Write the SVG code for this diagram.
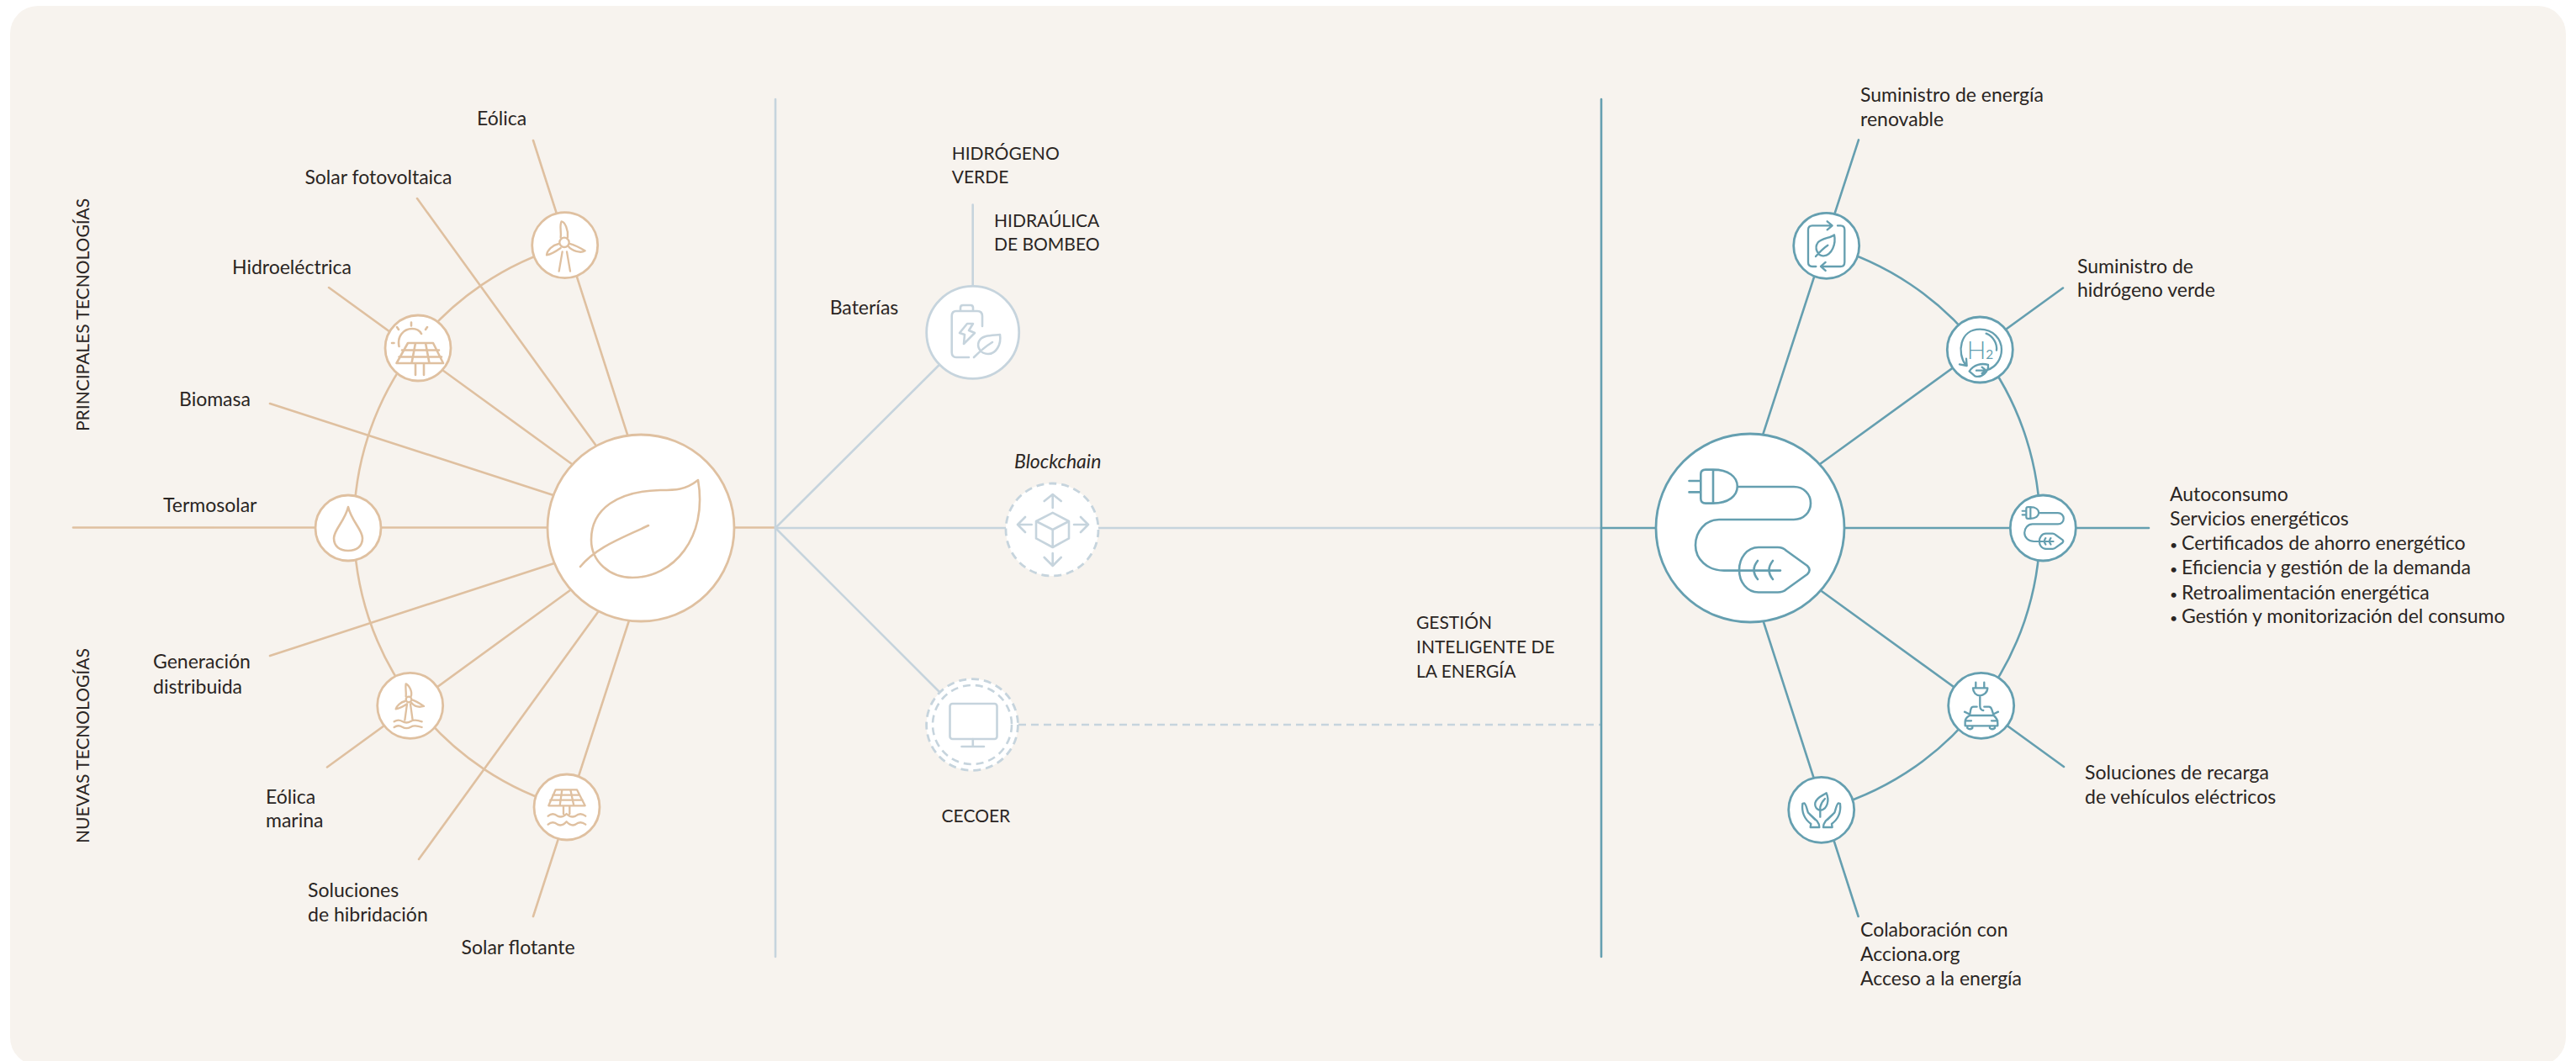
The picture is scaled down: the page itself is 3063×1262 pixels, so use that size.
<svg xmlns="http://www.w3.org/2000/svg" width="3063" height="1262" viewBox="0 0 3063 1262">
<style>
text{font-family:"Lato","Noto Sans",sans-serif;font-size:23px;fill:#2a2523}
.k{font-size:21px}
.bu{font-size:16px}
line,path,circle,rect{fill:none;stroke-linecap:round;stroke-linejoin:round}
.t{stroke:#dfc0a0;stroke-width:2.6}
.g{stroke:#c6d4dd;stroke-width:2.6}
.b{stroke:#659fb0;stroke-width:2.6}
.n{fill:#fff;stroke-width:2.8}
.d{stroke-dasharray:9 6;stroke-linecap:butt}
</style>
<defs>
<g id="plug">
<path d="M2037 558.6H2028Q2022.3 558.6 2022.3 564V593Q2022.3 598.6 2028 598.6H2037C2055 598.6 2065.8 590 2065.8 578.6C2065.8 567 2055 558.6 2037 558.6ZM2037 558.6V598.6M2008.5 572H2022M2008.5 585.4H2022M2066 579H2133C2145 579 2153 588 2153 598.5C2153 609 2145 618 2133 618H2044C2028 618 2016 632 2016 648.4C2016 665 2030 678.6 2050 678.6H2117"/>
<path d="M2091 651H2114Q2120 651 2124 655L2149 673Q2154 678 2149 683L2124 701Q2120 704.5 2114 704.5H2091C2077 704.5 2068 692 2068 678C2068 664 2077 651 2091 651Z"/>
<path d="M2090 667Q2081 678 2090 689M2108 667Q2099 678 2108 689"/>
</g>
</defs>
<rect id="panel" x="12" y="7" width="3039" height="1260" rx="33" style="fill:#f7f3ee;stroke:none"/>
<g id="connectors">
<path class="t" d="M671.7 292.5A347 347 0 0 0 674 960"/>
<line class="t" x1="634" y1="167" x2="747" y2="520"/>
<line class="t" x1="496" y1="236" x2="708" y2="529"/>
<line class="t" x1="391" y1="342" x2="680" y2="552"/>
<line class="t" x1="321" y1="480" x2="658" y2="589"/>
<line class="t" x1="87" y1="627.5" x2="922" y2="627.5"/>
<line class="t" x1="321" y1="780" x2="659" y2="670"/>
<line class="t" x1="389" y1="912.5" x2="678" y2="702"/>
<line class="t" x1="498" y1="1022" x2="711" y2="728"/>
<line class="t" x1="634" y1="1090" x2="748" y2="738"/>
<line class="g" x1="922" y1="118" x2="922" y2="1138"/>
<line class="g" x1="922" y1="628" x2="1903" y2="628"/>
<line class="g" x1="922" y1="628" x2="1156" y2="395"/>
<line class="g" x1="1156.7" y1="243.5" x2="1156.7" y2="395"/>
<line class="g" x1="922" y1="628" x2="1156" y2="862"/>
<line class="g d" x1="1211" y1="862" x2="1903" y2="862"/>
<line class="b" x1="1904" y1="118" x2="1904" y2="1138"/>
<line class="b" x1="1904" y1="628" x2="2081" y2="628"/>
<path class="b" d="M2171.7 292.3A347.5 347.5 0 0 1 2165.7 963.3"/>
<line class="b" x1="2210" y1="166.4" x2="2096" y2="517.5"/>
<line class="b" x1="2453" y1="342.5" x2="2164" y2="552"/>
<line class="b" x1="2081" y1="628" x2="2555" y2="628"/>
<line class="b" x1="2164.4" y1="702" x2="2454" y2="912"/>
<line class="b" x1="2096.7" y1="739" x2="2209.6" y2="1090"/>
</g>
<g id="node-hoja"><circle class="t n" cx="762" cy="628" r="111" style="fill:#fff"/>
<path class="t" d="M830 571C815 583 803 583 785 583C735 584 703 605 703 642C703 668 725 687 752 687C800 687 842 640 830 571ZM771 625C740 640 710 650 690 674"/></g>
<g id="node-eolica"><circle class="t n" cx="671.7" cy="291.7" r="39" style="fill:#fff"/>
<g class="t" transform="translate(620 240) scale(.3333)" style="stroke-width:7"><circle cx="153" cy="145" r="17" style="stroke:inherit"/><path style="stroke:inherit" d="M140 128C143 105 135 85 143 70C155 72 168 100 165 127M172 150C190 155 215 168 227 175C210 185 180 175 168 160M133 150C110 155 92 172 90 190C110 187 130 172 140 165M146 178L134 248M162 178L174 248"/></g></g>
<g id="node-fotovoltaica"><circle class="t n" cx="497" cy="414" r="39" style="fill:#fff"/>
<path class="t" d="M485 408H515L527 432H471.5ZM478 416.5H522M474.5 424.5H525M494 408L489.5 432M506 408L510.5 432M494 432V446M504 432V446M474.5 412C472 400 480 391 490 391C495 391 499 393 501 397M489 383.6V387.5M472 389L474 392M508 389L506 392M466 408H468.5"/></g>
<g id="node-termosolar"><circle class="t n" cx="414" cy="628" r="39" style="fill:#fff"/>
<path class="t" d="M414 603C410 620 397 630 397 640C397 650 404 655 414 655C424 655 431 650 431 640C431 630 418 620 414 603Z"/></g>
<g id="node-eolica-marina"><circle class="t n" cx="487.7" cy="839.3" r="39" style="fill:#fff"/>
<g class="t" transform="translate(420 760) scale(.3333)" style="stroke-width:7"><circle cx="198" cy="216" r="10" style="stroke:inherit"/><path style="stroke:inherit" d="M188 205C190 190 185 175 188 160C200 165 212 190 206 205M212 218C225 222 240 232 252 240C235 245 218 240 208 228M185 222C170 225 155 238 152 250C168 248 180 240 192 232M192 232L184 290M204 232L212 290M146 295C156 288 165 288 175 294C185 300 195 300 205 294C215 288 225 288 245 295M146 315C156 308 165 308 175 314C185 320 195 320 205 314C215 308 225 308 245 315"/></g></g>
<g id="node-solar-flotante"><circle class="t n" cx="674" cy="960" r="39" style="fill:#fff"/>
<g class="t" transform="translate(420 760) scale(.3333)" style="stroke-width:7"><path style="stroke:inherit" d="M722 538H798L827 595H697ZM712 557H808M703 575H818M745 538L737 595M775 538L787 595M750 595V625M772 595V625M695 632q17 -14 34 0q16 8 32 -8q16 16 32 8q17 -14 36 0M695 662q17 -14 34 0q17 8 32 -10q16 18 32 10q17 -14 36 0"/></g></g>
<g id="node-baterias"><circle class="g n" cx="1156.7" cy="395.4" r="55" style="fill:#fff"/>
<path class="g" d="M1168 388V376Q1168 370 1162 370H1137Q1131.7 370 1131.7 376V419Q1131.7 425 1137 425H1152M1142 370V366Q1142 363 1145 363H1154Q1157 363 1157 366V370M1150 385L1141 396L1147 398L1146 409L1159 396L1152 393L1157 385ZM1189 398C1180 399 1168 398 1164 406C1161 413 1166 421 1175 421C1184 421 1191 410 1189 398ZM1158 425C1165 418 1172 412 1180 407"/></g>
<g id="node-blockchain"><circle class="g n d" cx="1251" cy="630" r="55" style="fill:#fff"/>
<path class="g" d="M1251.7 609.8L1271 620V640.4L1251.7 651L1232 640.4V620ZM1232 620L1251.7 630L1271 620M1251.7 630V651M1251.7 604V588M1241.7 596L1251.7 588L1261.7 596M1226.7 624H1210M1219 615L1210 624L1219 633M1277 624H1294M1285 615L1294 624L1285 633M1251.7 658V673M1241.7 663L1251.7 673L1261.7 663"/></g>
<g id="node-cecoer"><circle class="g n d" cx="1156" cy="862" r="54.4" style="fill:#fff"/><circle class="g d" cx="1156" cy="862" r="47"/>
<rect class="g" x="1129.5" y="837" width="56" height="42" rx="3"/><path class="g" d="M1156.8 879V888M1143.5 888H1170"/></g>
<g id="node-gestion"><circle class="b n" cx="2081" cy="628" r="112" style="fill:#fff"/><use href="#plug" class="b"/></g>
<g id="node-suministro"><circle class="b n" cx="2171.7" cy="292.3" r="39" style="fill:#fff"/>
<g class="b" transform="translate(2100 240) scale(.3333)" style="stroke-width:7"><path style="stroke:inherit" d="M178 231H165Q150 231 150 216V100Q150 85 165 85H232M218 70L236 85L218 100M255 85H266Q280 85 280 100V215Q280 231 265 231H197M212 216L195 231L212 246M243 118C230 130 200 128 185 145C170 165 185 195 205 193C235 190 250 150 243 118ZM177 195C190 180 205 165 220 155"/></g></g>
<g id="node-hidrogeno"><circle class="b n" cx="2354.3" cy="416" r="39" style="fill:#fff"/>
<g class="b" transform="translate(2100 240) scale(.3333)" style="stroke-width:7"><path style="stroke:inherit" d="M712 582C680 540 690 455 763 455C810 455 840 490 840 528C840 560 820 590 790 600M690 580L716 585L714 560M785 470C810 480 825 505 822 530M725 605C740 580 770 575 792 582C795 605 770 630 745 622ZM750 602H785M770 590L785 602L770 612"/>
<text x="716" y="560" style="font-size:90px;font-weight:300;fill:#659fb0;stroke:none">H<tspan style="font-size:46px;font-weight:400">2</tspan></text></g></g>
<g id="node-autoconsumo"><circle class="b n" cx="2429.3" cy="628" r="39" style="fill:#fff"/>
<use href="#plug" class="b" transform="translate(2429.3 628) scale(.34) translate(-2081 -631.5)" style="stroke-width:6.5"/></g>
<g id="node-recarga"><circle class="b n" cx="2355.7" cy="839.3" r="39" style="fill:#fff"/>
<g class="b" transform="translate(2100 780) scale(.3333)" style="stroke-width:7"><path style="stroke:inherit" d="M748 95V112M778 95V112M738 115H790C790 132 775 142 763 142C750 142 738 132 738 115ZM763 142V180C763 190 770 195 775 195M752 182H740Q732 182 730 192L726 213M778 182H795Q802 182 805 192L812 213M726 213H812Q826 225 826 240V250H710V235Q710 222 726 213ZM708 200L724 208M828 200L812 208M718 250V258Q726 266 736 258V250M798 250V258Q806 266 816 258V250M710 232H732M804 232H826"/></g></g>
<g id="node-colaboracion"><circle class="b n" cx="2165.7" cy="963.3" r="39" style="fill:#fff"/>
<g class="b" transform="translate(2100 780) scale(.3333)" style="stroke-width:7"><path style="stroke:inherit" d="M215 490C200 500 180 505 175 525C172 545 190 555 200 550C215 545 228 520 215 490ZM193 575V540C196 525 205 515 210 510M130 528L136 526C143 530 146 550 150 560L182 590Q190 600 190 612M130 528C126 560 140 585 160 600L158 612H190M264 528L258 526C251 530 248 550 244 560L212 590Q204 600 204 612M264 528C268 560 254 585 234 600L236 612H204M155 565L175 585M239 565L219 585"/></g></g>
<g id="labels">
<text class="k" transform="translate(105.5 513) rotate(-90)">PRINCIPALES TECNOLOGÍAS</text>
<text class="k" transform="translate(105.5 1003) rotate(-90)">NUEVAS TECNOLOGÍAS</text>
<text x="567" y="148.6">Eólica</text>
<text x="362.4" y="218.6">Solar fotovoltaica</text>
<text x="276" y="325.7">Hidroeléctrica</text>
<text x="213" y="483">Biomasa</text>
<text x="194" y="608.6">Termosolar</text>
<text x="182" y="795">Generación</text><text x="182" y="824.5">distribuida</text>
<text x="316" y="956">Eólica</text><text x="316" y="984">marina</text>
<text x="366" y="1066.7">Soluciones</text><text x="366" y="1096">de hibridación</text>
<text x="548.5" y="1135">Solar flotante</text>
<text class="k" x="1131.7" y="190">HIDRÓGENO</text><text class="k" x="1131.7" y="218">VERDE</text>
<text class="k" x="1182" y="270">HIDRAÚLICA</text><text class="k" x="1182" y="298">DE BOMBEO</text>
<text x="986.7" y="374">Baterías</text>
<text x="1206" y="557" font-style="italic">Blockchain</text>
<text class="k" x="1119.6" y="977.7">CECOER</text>
<text class="k" x="1684" y="747.7">GESTIÓN</text><text class="k" x="1684" y="777">INTELIGENTE DE</text><text class="k" x="1684" y="806">LA ENERGÍA</text>
<text x="2212" y="121">Suministro de energía</text><text x="2212" y="150">renovable</text>
<text x="2470" y="325">Suministro de</text><text x="2470" y="353">hidrógeno verde</text>
<text x="2580" y="596">Autoconsumo</text><text x="2580" y="625">Servicios energéticos</text>
<text x="2580" y="654"><tspan class="bu">•</tspan><tspan x="2594">Certificados de ahorro energético</tspan></text>
<text x="2580" y="683"><tspan class="bu">•</tspan><tspan x="2594">Eficiencia y gestión de la demanda</tspan></text>
<text x="2580" y="712.5"><tspan class="bu">•</tspan><tspan x="2594">Retroalimentación energética</tspan></text>
<text x="2580" y="741"><tspan class="bu">•</tspan><tspan x="2594">Gestión y monitorización del consumo</tspan></text>
<text x="2479" y="927">Soluciones de recarga</text><text x="2479" y="956">de vehículos eléctricos</text>
<text x="2212" y="1114">Colaboración con</text><text x="2212" y="1143">Acciona.org</text><text x="2212" y="1172">Acceso a la energía</text>
</g>
</svg>
